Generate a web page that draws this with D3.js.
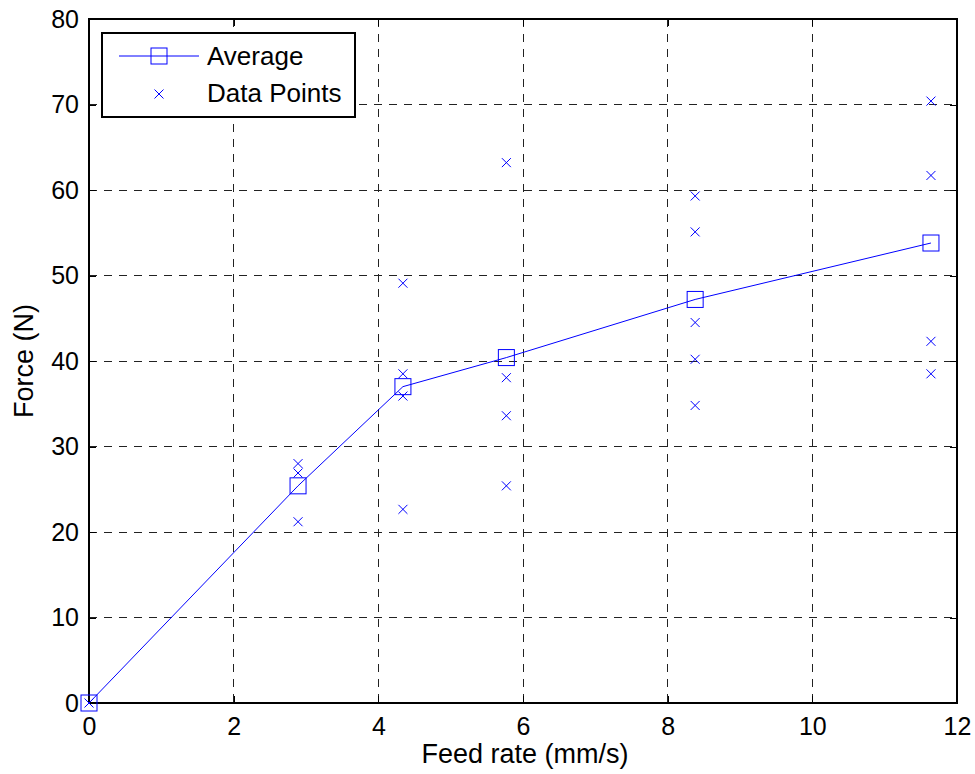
<!DOCTYPE html>
<html><head><meta charset="utf-8">
<script src="https://cdn.jsdelivr.net/npm/d3@7"></script>
<style>body{margin:0;background:#fff}svg{display:block}</style>
</head><body>
<svg id="c" width="975" height="774"></svg>
<script>
const feedRates = [0, 2.89, 4.34, 5.77, 8.38, 11.64];
const averageForce = [0, 25.4, 37.0, 40.4, 47.2, 53.8];
const dataPointFeed = [0, 2.89, 2.89, 2.89, 4.34, 4.34, 4.34, 4.34, 5.77, 5.77, 5.77, 5.77, 8.38, 8.38, 8.38, 8.38, 8.38, 11.64, 11.64, 11.64, 11.64];
const dataPointForce = [0, 28.0, 26.9, 21.2, 49.1, 38.5, 35.9, 22.65, 63.2, 38.05, 33.6, 25.4, 59.3, 55.1, 44.5, 40.2, 34.8, 70.4, 61.7, 42.3, 38.5];
const xTicks = [0, 2, 4, 6, 8, 10, 12];
const yTicks = [0, 10, 20, 30, 40, 50, 60, 70, 80];
const legendLabels = ["Average", "Data Points"];

const svg = d3.select("#c");
const L = 89, R = 957, T = 19, B = 703;
const x = d3.scaleLinear().domain([0, 12]).range([L, R]);
const y = d3.scaleLinear().domain([0, 80]).range([B, T]);
const font = "'Liberation Sans', Arial, sans-serif";
const blue = "#0000ff";

// grid
const grid = svg.append("g").attr("stroke", "#222").attr("stroke-width", 1)
  .attr("stroke-dasharray", "8,7").attr("shape-rendering", "crispEdges");
xTicks.slice(1, -1).forEach(t => grid.append("line").attr("x1", x(t)).attr("x2", x(t)).attr("y1", T).attr("y2", B));
yTicks.slice(1, -1).forEach(t => grid.append("line").attr("x1", L).attr("x2", R).attr("y1", y(t)).attr("y2", y(t)));

// axes
const xAxis = d3.axisBottom(x).tickValues(xTicks).tickSize(-7).tickPadding(14).tickFormat(d3.format("d"));
const yAxis = d3.axisLeft(y).tickValues(yTicks).tickSize(-7).tickPadding(10).tickFormat(d3.format("d"));
const xTop = d3.axisTop(x).tickValues(xTicks).tickSize(-7).tickFormat("");
const yRight = d3.axisRight(y).tickValues(yTicks).tickSize(-7).tickFormat("");
function style(g) {
  g.selectAll("path").remove();
  g.selectAll("line").attr("stroke", "#000").attr("shape-rendering", "crispEdges");
  g.selectAll("text").attr("fill", "#000").style("font-family", font).style("font-size", "25px");
}
svg.append("g").attr("transform", `translate(0,${B})`).call(xAxis).call(style);
svg.append("g").attr("transform", `translate(${L},0)`).call(yAxis).call(style);
svg.append("g").attr("transform", `translate(0,${T})`).call(xTop).call(style);
svg.append("g").attr("transform", `translate(${R},0)`).call(yRight).call(style);
svg.append("rect").attr("x", L).attr("y", T).attr("width", R - L).attr("height", B - T)
  .attr("fill", "none").attr("stroke", "#000").attr("stroke-width", 1.3).attr("shape-rendering", "crispEdges");

// labels
svg.append("text").attr("x", (L + R) / 2 + 2).attr("y", 763).attr("text-anchor", "middle")
  .style("font-family", font).style("font-size", "27px").text("Feed rate (mm/s)");
svg.append("text").attr("transform", `translate(33,${(T + B) / 2}) rotate(-90)`).attr("text-anchor", "middle")
  .style("font-family", font).style("font-size", "27px").text("Force (N)");

// average line
const line = d3.line().x((d, i) => x(feedRates[i])).y(d => y(d));
svg.append("path").datum(averageForce).attr("d", line).attr("fill", "none").attr("stroke", blue).attr("stroke-width", 1);
const sq = 16;
svg.append("g").selectAll("rect").data(averageForce).join("rect")
  .attr("x", (d, i) => x(feedRates[i]) - sq / 2).attr("y", d => y(d) - sq / 2)
  .attr("width", sq).attr("height", sq).attr("fill", "none").attr("stroke", blue).attr("stroke-width", 1);

// data points (crosses)
const cs = 4.5;
function cross(px, py) { return `M${px - cs},${py - cs}L${px + cs},${py + cs}M${px - cs},${py + cs}L${px + cs},${py - cs}`; }
svg.append("g").selectAll("path").data(dataPointForce).join("path")
  .attr("d", (d, i) => cross(x(dataPointFeed[i]), y(d)))
  .attr("fill", "none").attr("stroke", blue).attr("stroke-width", 1);

// legend
const lg = svg.append("g");
lg.append("rect").attr("x", 102).attr("y", 33).attr("width", 253).attr("height", 84)
  .attr("fill", "#fff").attr("stroke", "#000").attr("stroke-width", 1.3).attr("shape-rendering", "crispEdges");
lg.append("line").attr("x1", 119).attr("x2", 199).attr("y1", 56).attr("y2", 56).attr("stroke", blue);
lg.append("rect").attr("x", 159 - sq / 2).attr("y", 56 - sq / 2).attr("width", sq).attr("height", sq)
  .attr("fill", "none").attr("stroke", blue);
lg.append("path").attr("d", cross(159, 94)).attr("stroke", blue).attr("fill", "none");
lg.selectAll("text").data(legendLabels).join("text")
  .attr("x", 207).attr("y", (d, i) => 65 + i * 37)
  .style("font-family", font).style("font-size", "26px").text(d => d);
</script>
</body></html>
